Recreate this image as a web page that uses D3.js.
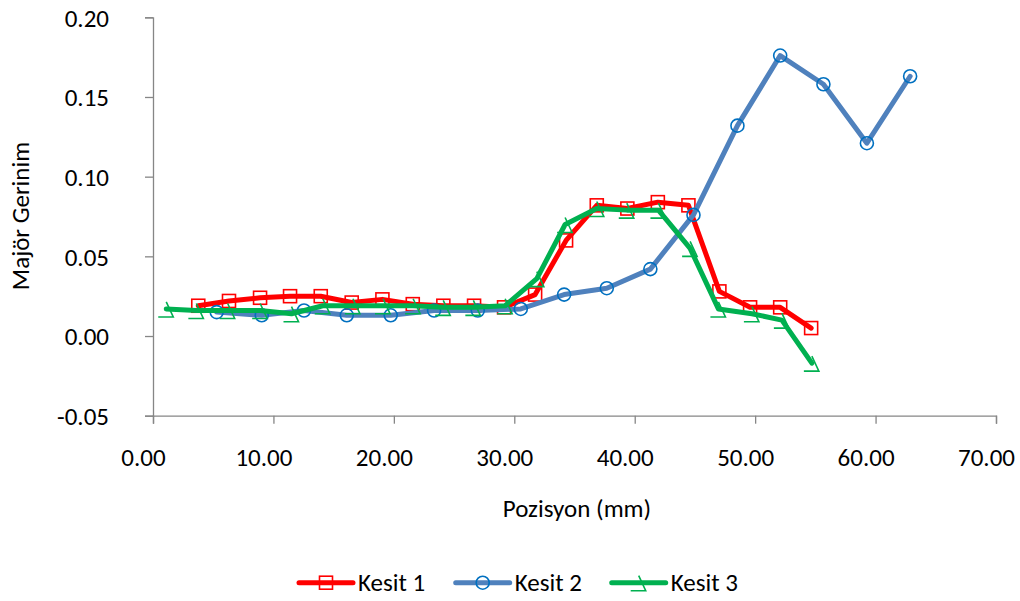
<!DOCTYPE html>
<html>
<head>
<meta charset="utf-8">
<script src="https://cdn.jsdelivr.net/npm/d3@7"></script>
<style>
  html, body { margin: 0; padding: 0; background: #fff; }
  svg text { font-family: Carlito, Lato, "Open Sans", sans-serif; fill: #000; }
</style>
</head>
<body>
<svg id="chart" width="1020" height="601"></svg>
<script>
const seriesNames = ["Kesit 1", "Kesit 2", "Kesit 3"];
const k1x = [3.76, 6.31, 8.89, 11.38, 13.93, 16.50, 19.05, 21.57, 24.11, 26.66, 29.15, 31.73, 34.30, 36.85, 39.39, 41.92, 44.46, 47.03, 49.58, 52.08, 54.65];
const k1y = [0.019, 0.022, 0.024, 0.025, 0.025, 0.021, 0.023, 0.020, 0.019, 0.019, 0.018, 0.026, 0.060, 0.082, 0.080, 0.084, 0.082, 0.028, 0.018, 0.018, 0.005];
const k2x = [5.29, 9.03, 12.54, 16.09, 19.74, 23.34, 26.97, 30.54, 34.14, 37.68, 41.30, 44.88, 48.53, 52.08, 55.67, 59.28, 62.87];
const k2y = [0.015, 0.013, 0.016, 0.013, 0.013, 0.016, 0.016, 0.017, 0.026, 0.030, 0.042, 0.076, 0.132, 0.176, 0.158, 0.121, 0.163];
const k3x = [1.1, 3.6, 6.2, 8.9, 11.5, 14.1, 16.6, 19.1, 21.6, 24.1, 26.6, 29.24, 31.87, 34.22, 36.85, 39.34, 41.97, 44.60, 46.95, 49.73, 52.22, 54.71];
const k3y = [0.017, 0.016, 0.016, 0.016, 0.014, 0.019, 0.019, 0.019, 0.019, 0.018, 0.018, 0.019, 0.036, 0.070, 0.080, 0.079, 0.079, 0.055, 0.017, 0.014, 0.010, -0.017];
const xTicks = [0, 10, 20, 30, 40, 50, 60, 70];
const yTicks = [-0.05, 0, 0.05, 0.10, 0.15, 0.20];
const xTitle = "Pozisyon (mm)";
const yTitle = "Majör Gerinim";

const svg = d3.select("#chart");
const x = d3.scaleLinear().domain([0, 70]).range([153, 996]);
const y = d3.scaleLinear().domain([-0.05, 0.20]).range([415.7, 17.3]);
const axisColor = "#868686";
const fs = 25;
const fmt = d => d.toFixed(2);

// Y axis
const gy = svg.append("g").attr("transform", `translate(${x(0)},0)`)
  .call(d3.axisLeft(y).tickValues(yTicks).tickFormat(fmt).tickSize(8).tickPadding(36));
gy.select(".domain").attr("stroke", axisColor).attr("stroke-width", 1.3);
gy.selectAll(".tick line").attr("stroke", axisColor).attr("stroke-width", 1.3);
gy.selectAll(".tick text").attr("font-size", fs).attr("dy", "0.35em");

// X axis
const gx = svg.append("g").attr("transform", `translate(0,${y(-0.05)})`)
  .call(d3.axisBottom(x).tickValues(xTicks).tickFormat(fmt).tickSize(8).tickPadding(25));
gx.select(".domain").attr("stroke", axisColor).attr("stroke-width", 1.3);
gx.selectAll(".tick line").attr("stroke", axisColor).attr("stroke-width", 1.3);
gx.selectAll(".tick text").attr("font-size", fs).attr("dx", -10);

// Titles
svg.append("text").attr("x", 577).attr("y", 517).attr("text-anchor", "middle")
  .attr("font-size", fs).text(xTitle);
svg.append("text").attr("transform", "translate(29,216) rotate(-90)")
  .attr("text-anchor", "middle").attr("font-size", fs).text(yTitle);

const series = [
  { name: seriesNames[0], xs: k1x, ys: k1y, line: "#FF0000", mark: "#FF0000", shape: "square" },
  { name: seriesNames[1], xs: k2x, ys: k2y, line: "#4F81BD", mark: "#0070C0", shape: "circle" },
  { name: seriesNames[2], xs: k3x, ys: k3y, line: "#00B050", mark: "#00B050", shape: "tri" }
];

function drawMarker(g, shape, color) {
  if (shape === "square") {
    g.append("rect").attr("x", -6.5).attr("y", -6.5).attr("width", 13).attr("height", 13)
      .attr("fill", "none").attr("stroke", color).attr("stroke-width", 1.6);
  } else if (shape === "circle") {
    g.append("circle").attr("r", 6.5).attr("fill", "none").attr("stroke", color).attr("stroke-width", 1.6);
  } else {
    g.append("path").attr("d", "M0,-7 L7,8 L-8,8").attr("fill", "none")
      .attr("stroke", color).attr("stroke-width", 1.6);
  }
}

const lineGen = d3.line().x(d => x(d[0])).y(d => y(d[1]));
series.forEach(s => {
  const pts = s.xs.map((v, i) => [v, s.ys[i]]);
  svg.append("path").datum(pts).attr("d", lineGen).attr("fill", "none")
    .attr("stroke", s.line).attr("stroke-width", 5)
    .attr("stroke-linejoin", "round").attr("stroke-linecap", "round");
  pts.forEach(p => {
    const g = svg.append("g").attr("transform", `translate(${x(p[0])},${y(p[1])})`);
    drawMarker(g, s.shape, s.mark);
  });
});

// Legend
const legendX = [299, 455.7, 611.7];
const legendY = 582.7;
series.forEach((s, i) => {
  const lx = legendX[i];
  svg.append("line").attr("x1", lx).attr("x2", lx + 54).attr("y1", legendY).attr("y2", legendY)
    .attr("stroke", s.line).attr("stroke-width", 5).attr("stroke-linecap", "round");
  const g = svg.append("g").attr("transform", `translate(${lx + 27},${legendY})`);
  drawMarker(g, s.shape, s.mark);
  svg.append("text").attr("x", lx + 59).attr("y", legendY + 8.5).attr("font-size", fs).text(s.name);
});
</script>
</body>
</html>
